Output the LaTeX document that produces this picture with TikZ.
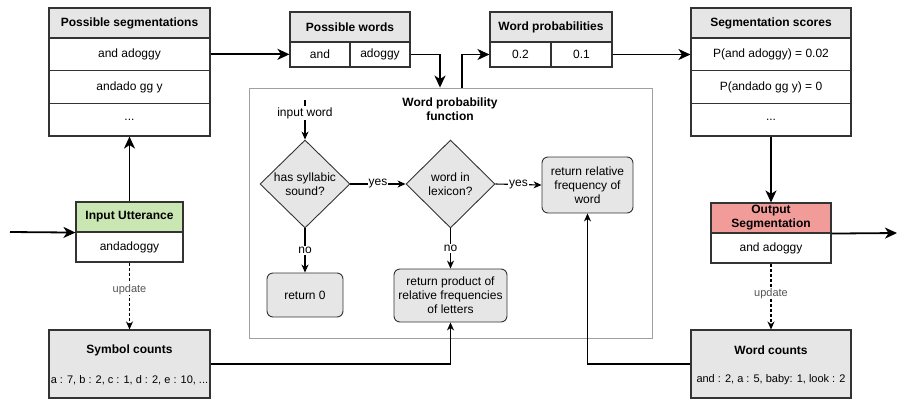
\documentclass[tikz,border=0pt]{standalone}
\usepackage{fontspec}
\setmainfont{Liberation Sans}
\usetikzlibrary{shapes.geometric,arrows.meta}
\definecolor{hdrgray}{HTML}{E6E6E6}
\definecolor{boxgray}{HTML}{E6E6E6}
\definecolor{frame}{HTML}{333333}
\definecolor{greenh}{HTML}{C9E6B3}
\definecolor{redh}{HTML}{F19C99}
\definecolor{wpfgray}{HTML}{A0A0A0}
\definecolor{updgray}{HTML}{555555}
\begin{document}
\begin{tikzpicture}[x=1pt,y=-1pt,
  font=\fontsize{12}{14}\selectfont,
  sz/.style 2 args={minimum width=#1 pt, minimum height=#2 pt},
  cellbase/.style={draw=frame, line width=1.1pt, rectangle, inner sep=0pt, align=center},
  hdr/.style={cellbase, fill=hdrgray, font=\fontsize{12}{14}\selectfont\bfseries},
  cell/.style={cellbase, fill=white},
  boldtxt/.style={font=\fontsize{12}{14}\selectfont\bfseries, align=center, inner sep=0pt},
  cnttxt/.style={font=\fontsize{11}{13}\selectfont, inner sep=0pt},
  rbox/.style={draw=frame, fill=boxgray, rounded corners=6pt, line width=0.9pt, align=center, inner sep=0pt},
  dia/.style={diamond, draw=frame, fill=boxgray, line width=0.9pt, inner sep=0pt},
  arr/.style={line width=1.8pt, -{Stealth[length=12pt,width=11pt,inset=3.5pt]}},
  tarr/.style={line width=1.1pt, -{Stealth[length=8pt,width=7pt,inset=2.5pt]}},
  darr/.style={line width=1.1pt, dash pattern=on 3pt off 2pt, -{Stealth[length=8pt,width=7pt,inset=2.5pt]}},
  lbl/.style={fill=white, inner sep=1pt},
  updlbl/.style={fill=white, inner sep=1pt, text=updgray, font=\fontsize{11}{13}\selectfont}
]
\useasboundingbox (0,0) rectangle (900,400);

% Possible segmentations
\node[hdr, sz={161}{30}] (psh) at (129.5,23) {Possible segmentations};
\node[cell, sz={161}{32.7}] (ps1) at (129.5,54.33) {and adoggy};
\node[cell, sz={161}{32.7}] (ps2) at (129.5,87) {andado gg y};
\node[cell, sz={161}{32.7}] (ps3) at (129.5,119.67) {...};

% Segmentation scores
\node[hdr, sz={160}{30}] (ssh) at (771,23) {Segmentation scores};
\node[cell, sz={160}{32.7}] (ss1) at (771,54.33) {P(and adoggy) = 0.02};
\node[cell, sz={160}{32.7}] (ss2) at (771,87) {P(andado gg y) = 0};
\node[cell, sz={160}{32.7}] (ss3) at (771,119.67) {...};

% Possible words
\node[hdr, sz={120}{30}] (pwh) at (350,27) {Possible words};
\node[cell, sz={60}{25}] (pw1) at (320,54.5) {and};
\node[cell, sz={60}{25}] (pw2) at (380,54.5) {adoggy};

% Word probabilities
\node[hdr, sz={122}{30}] (wph) at (551,27) {Word probabilities};
\node[cell, sz={61}{25}] (wp1) at (520.5,54.5) {0.2};
\node[cell, sz={61}{25}] (wp2) at (581.5,54.5) {0.1};

% Input utterance
\node[hdr, fill=greenh, sz={107}{30}] (iuh) at (129.5,217) {Input Utterance};
\node[cell, sz={107}{30}] (iub) at (129.5,247) {andadoggy};

% Output segmentation
\node[hdr, fill=redh, sz={120}{30}] (osh) at (771,218) {Output\\Segmentation};
\node[cell, sz={120}{30}] (osb) at (771,248) {and adoggy};

% Symbol counts
\node[cellbase, fill=boxgray, sz={161}{68}] (sc) at (129.5,364) {};
\node[boldtxt] (sct) at (129.5,350) {Symbol counts};
\node[cnttxt] (scv) at (129.5,380) {a : 7, b : 2, c : 1, d : 2, e : 10, ...};

% Word counts
\node[cellbase, fill=boxgray, sz={160}{68}] (wc) at (771,364) {};
\node[boldtxt] (wct) at (771,350) {Word counts};
\node[cnttxt] (wcv) at (771,380) {and : 2, a : 5, baby: 1, look : 2};

% Word probability function
\node[draw=wpfgray, line width=0.9pt, sz={403}{250}, inner sep=0pt] (wpf) at (450.5,213) {};
\node[boldtxt] (wpft) at (450,109) {Word probability\\function};

\coordinate (iwtop) at (305,100);
\node[lbl] (iw) at (305,113) {input word};
\node[dia, minimum width=90pt, minimum height=88pt] (d1) at (305,184) {};
\node[align=center, inner sep=0pt] (d1t) at (305,184) {has syllabic\\sound?};
\node[dia, minimum width=89pt, minimum height=88pt] (d2) at (450.5,184) {};
\node[align=center, inner sep=0pt] (d2t) at (450.5,184) {word in\\lexicon?};
\node[rbox, sz={91}{56}] (r1) at (587.5,185) {return relative\\frequency of\\word};
\node[rbox, sz={76}{44}] (r0) at (305,295) {return 0};
\node[rbox, sz={113}{53}] (rp) at (450.5,295.5) {return product of\\relative frequencies\\of letters};

% flowchart edges
\draw[line width=1.1pt] (iwtop) -- (iw.north);
\draw[tarr] (iw.south) -- (d1.north);
\draw[tarr] (d1.east) -- node[lbl] {yes} (d2.west);
\draw[tarr] (d2.east) -- node[lbl] {yes} (r1.west);
\draw[tarr] (d1.south) -- node[lbl] {no} (r0.north);
\draw[tarr] (d2.south) -- node[lbl] {no} (rp.north);

% main edges
\coordinate (inL) at (10,232);
\coordinate (outR) at (897,233);
\draw[arr] (inL) -- (iuh.south west);
\draw[arr] (iuh.north) -- (ps3.south);
\draw[darr] (iub.south) -- node[updlbl, pos=0.4] {update} (sc.north);
\draw[arr] (ps1.east) -- (ps1.east -| pw1.west);
\draw[arr] (pw2.east) -| ([xshift=-10.5pt]wpf.north);
\draw[arr] ([xshift=11.5pt]wpf.north) |- (wp1.west);
\draw[arr] (wp2.east) -- (wp2.east -| ss1.west);
\draw[arr] (ss3.south) -- (osh.north);
\draw[arr] (osh.south east) -- (outR);
\draw[darr] (osb.south) -- node[updlbl, pos=0.45] {update} (wc.north);
\draw[tarr] (sc.east) -| (rp.south);
\draw[tarr] (wc.west) -| (r1.south);
\end{tikzpicture}
\end{document}
